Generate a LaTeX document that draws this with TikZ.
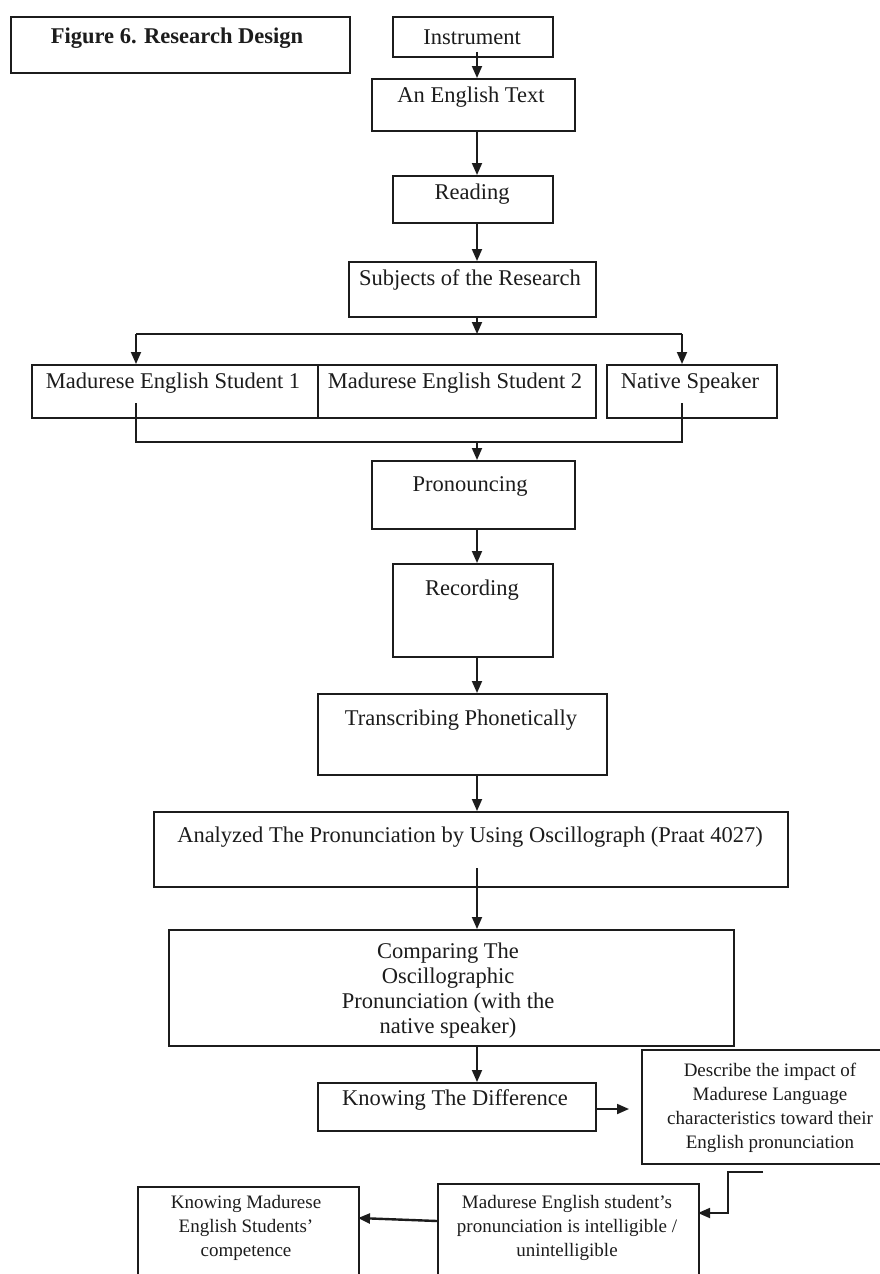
\documentclass[tikz,border=0pt]{standalone}
\usepackage{fontspec}
\setmainfont{Liberation Serif}
\usepackage{xcolor}
\usepackage{tikz}
\usetikzlibrary{arrows.meta}
\definecolor{ink}{HTML}{1C1C1C}
\definecolor{paper}{HTML}{FFFFFF}
\tikzset{
  box/.style={draw=ink, line width=1.8pt, rectangle, inner sep=0pt, anchor=north west},
  link/.style={draw=ink, line width=1.8pt},
  arr/.style={draw=ink, line width=1.8pt, -{Triangle[length=12pt,width=10pt]}},
  lab/.style={text=ink, anchor=base, inner sep=0pt, font=\fontsize{22.5}{25}\selectfont},
  labt/.style={lab, font=\fontsize{22.5}{25}\selectfont\bfseries},
  labm/.style={text=ink, anchor=north, inner sep=0pt, align=center, font=\fontsize{22.5}{25}\selectfont},
  labs/.style={text=ink, anchor=north, inner sep=0pt, align=center, font=\fontsize{19}{24}\selectfont},
}
\begin{document}
\begin{tikzpicture}[x=1pt, y=-1pt]
\useasboundingbox (0,0) rectangle (880,1274);
\fill[paper] (0,0) rectangle (880,1274);

\node[box, minimum width=339, minimum height=56] (title) at (10,16) {};
\node[labt] (titleL) at (177,43) {Figure 6. Research Design};

\node[box, minimum width=160, minimum height=40] (instr) at (392,16) {};
\node[lab] (instrL) at (472,44) {Instrument};
\node[box, minimum width=203, minimum height=52] (engl) at (371,78) {};
\node[lab] (englL) at (471,102) {An English Text};
\node[box, minimum width=160, minimum height=47] (read) at (392,175) {};
\node[lab] (readL) at (472,199) {Reading};
\node[box, minimum width=247, minimum height=55] (subj) at (348,261) {};
\node[lab] (subjL) at (470,285) {Subjects of the Research};

\node[box, minimum width=286, minimum height=53] (st1) at (31,364) {};
\node[lab] (st1L) at (173,388) {Madurese English Student 1};
\node[box, minimum width=278, minimum height=53] (st2) at (317,364) {};
\node[lab] (st2L) at (455,388) {Madurese English Student 2};
\node[box, minimum width=170, minimum height=53] (nat) at (606,364) {};
\node[lab] (natL) at (690,388) {Native Speaker};

\node[box, minimum width=203, minimum height=68] (pron) at (371,460) {};
\node[lab] (pronL) at (470,491) {Pronouncing};
\node[box, minimum width=160, minimum height=93] (rec) at (392,563) {};
\node[lab] (recL) at (472,595) {Recording};
\node[box, minimum width=289, minimum height=81] (trans) at (317,693) {};
\node[lab] (transL) at (461,725) {Transcribing Phonetically};
\node[box, minimum width=634, minimum height=75] (anal) at (153,811) {};
\node[lab] (analL) at (470,842) {Analyzed The Pronunciation by Using Oscillograph (Praat 4027)};
\node[box, minimum width=565, minimum height=116] (comp) at (168,929) {};
\node[labm] (compL) at (448,943) {Comparing The\\Oscillographic\\Pronunciation (with the\\native speaker)};
\node[box, minimum width=278, minimum height=48] (diff) at (317,1082) {};
\node[lab] (diffL) at (455,1105) {Knowing The Difference};
\node[box, minimum width=260, minimum height=114] (desc) at (641,1049) {};
\node[labs] (descL) at (770,1063) {Describe the impact of\\Madurese Language\\characteristics toward their\\English pronunciation};
\node[box, minimum width=261, minimum height=110] (mad) at (437,1183) {};
\node[labs] (madL) at (567,1195) {Madurese English student's\\pronunciation is intelligible /\\unintelligible};
\node[box, minimum width=221, minimum height=110] (know) at (137,1186) {};
\node[labs] (knowL) at (246,1195) {Knowing Madurese\\English Students'\\competence};

\coordinate (spine) at (477,0);
\coordinate (splitT) at (477,334);
\coordinate (brL) at (136,334);
\coordinate (brR) at (682,334);
\coordinate (jnL) at (136,403);
\coordinate (jnR) at (682,403);
\coordinate (joinB) at (477,442);
\coordinate (analOut) at (477,868);
\coordinate (descIn) at (629,1109);
\coordinate (descOut) at (763,1172);
\coordinate (madIn) at (698,1213);
\coordinate (madOut) at (437,1221);
\coordinate (knowIn) at (358,1218);

\draw[arr] ([yshift=6pt]instr.south -| spine) -- (engl.north -| spine);
\draw[arr] (engl.south -| spine) -- (read.north -| spine);
\draw[arr] (read.south -| spine) -- (subj.north -| spine);
\draw[arr] (subj.south -| spine) -- (splitT);
\draw[link] (brL) -- (brR);
\draw[arr] (brL) -- (brL |- st1.north);
\draw[arr] (brR) -- (brR |- nat.north);
\draw[link] (jnL) |- (joinB) -| (jnR);
\draw[arr] (joinB) -- (pron.north -| spine);
\draw[arr] (pron.south -| spine) -- (rec.north -| spine);
\draw[arr] (rec.south -| spine) -- (trans.north -| spine);
\draw[arr] (trans.south -| spine) -- (anal.north -| spine);
\draw[arr] (analOut) -- (comp.north -| spine);
\draw[arr] (comp.south -| spine) -- (diff.north -| spine);
\draw[arr] (diff.east |- descIn) -- (descIn);
\draw[arr] (descOut) -- ++(-35,0) |- (madIn);
\draw[arr, line width=2.4pt] (madOut) -- (knowIn);
\end{tikzpicture}
\end{document}
